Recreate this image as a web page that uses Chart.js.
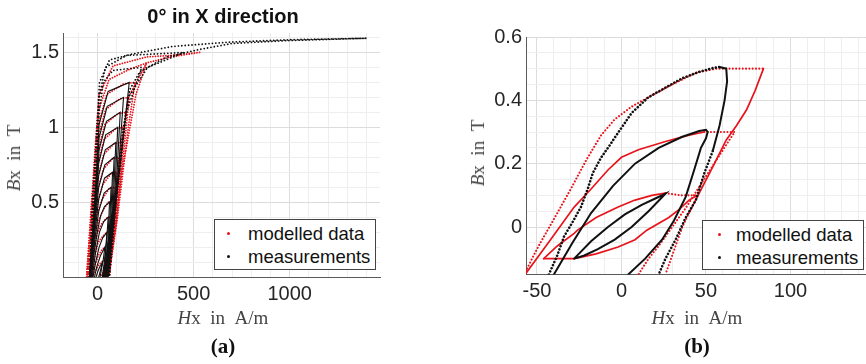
<!DOCTYPE html>
<html>
<head>
<meta charset="utf-8">
<title>B-H loops</title>
<script src="https://cdn.jsdelivr.net/npm/chart.js"></script>
<style>
  html, body { margin: 0; padding: 0; background: #fff; overflow: hidden; }
  #wrap { position: relative; width: 866px; height: 364px; overflow: hidden; }
  canvas { position: absolute; top: 0; }
  .txt { position: absolute; white-space: nowrap; }
  .title { font: bold 20px 'Liberation Sans', Arial, sans-serif; color: #111; text-align: center; }
  .axlab { font: 19px 'Liberation Serif', 'Times New Roman', serif; color: #444; }
  .cap { font: bold 21px 'Liberation Serif', 'Times New Roman', serif; color: #111; text-align: center; }
  .ylab { transform: translate(-50%, -50%) rotate(-90deg); }
  .xlab { transform: translate(-50%, -50%); }
  .legend { position: absolute; background: #fff; border: 1px solid #444; box-sizing: border-box;
            font: 18.5px 'Liberation Sans', Arial, sans-serif; color: #111; }
  .legend .row { position: absolute; left: 0; height: 24px; line-height: 24px; }
  .legend .dot { position: absolute; top: 10px; width: 3px; height: 3px; border-radius: 50%; }
</style>
</head>
<body>
<div id="wrap">
  <canvas id="chartA" width="390" height="364" style="left:0px"></canvas>
  <canvas id="chartB" width="420" height="364" style="left:463px"></canvas>

  <div class="txt title" style="left:123px; top:5px; width:200px;">0° in X direction</div>

  <div class="txt axlab xlab" style="left:223px; top:318px;"><i>H</i>x&ensp;in&ensp;A/m</div>
  <div class="txt axlab ylab" style="left:14px; top:158px;"><i>B</i>x&ensp;in&ensp;T</div>
  <div class="txt cap xlab" style="left:223px; top:346px;">(a)</div>

  <div class="txt axlab xlab" style="left:697px; top:318px;"><i>H</i>x&ensp;in&ensp;A/m</div>
  <div class="txt axlab ylab" style="left:478px; top:153px;"><i>B</i>x&ensp;in&ensp;T</div>
  <div class="txt cap xlab" style="left:697px; top:346px;">(b)</div>

  <div class="legend" style="left:214px; top:219px; width:162px; height:51px;">
    <div class="row" style="top:2px;"><span class="dot" style="left:12px; background:#e8141c;"></span><span style="position:absolute; left:33px;">modelled&nbsp;data</span></div>
    <div class="row" style="top:25px;"><span class="dot" style="left:12px; background:#111;"></span><span style="position:absolute; left:33px;">measurements</span></div>
  </div>
  <div class="legend" style="left:702px; top:220px; width:162px; height:50px;">
    <div class="row" style="top:2px;"><span class="dot" style="left:15px; background:#e8141c;"></span><span style="position:absolute; left:33px;">modelled&nbsp;data</span></div>
    <div class="row" style="top:25px;"><span class="dot" style="left:15px; background:#111;"></span><span style="position:absolute; left:33px;">measurements</span></div>
  </div>
</div>

<script>
// ---- (a) 0 deg in X direction: grid positions and labelled ticks
const xGridA = [-100, 0, 100, 200, 300, 400, 500, 600, 700, 800, 900, 1000, 1100, 1200, 1300, 1400];
const xLabelsA = [0, 500, 1000];
const yGridA = [0.1, 0.2, 0.3, 0.4, 0.5, 0.6, 0.7, 0.8, 0.9, 1, 1.1, 1.2, 1.3, 1.4, 1.5, 1.6];
const yLabelsA = [0.5, 1, 1.5];

// measured loops (a), [H, B] from descending branch over the tip to the ascending branch
const measLoopsA = [
    [[-8, 0], [2, 0.04], [12, 0.07], [26, 0.1], [16, 0.05], [6, 0]],
    [[-16, 0], [-4, 0.07], [14, 0.14], [38, 0.2], [30, 0.12], [20, 0.05], [13, 0]],
    [[-24, 0], [-10, 0.1], [8, 0.2], [26, 0.26], [49, 0.3], [43, 0.2], [34, 0.09], [25, 0]],
    [[-28, 0], [-10, 0.17], [10, 0.3], [32, 0.37], [55, 0.4], [48, 0.26], [38, 0.1], [28, 0]],
    [[-32, 0], [-17, 0.17], [-3, 0.29], [16, 0.41], [36, 0.47], [62, 0.5], [54, 0.24], [42, 0.11], [30, 0]],
    [[-34, 0], [-14, 0.25], [6, 0.44], [34, 0.56], [70, 0.6], [62, 0.32], [48, 0.14], [34, 0]],
    [[-37, 0], [-14, 0.3], [6, 0.52], [36, 0.66], [78, 0.7], [68, 0.38], [52, 0.15], [37, 0]],
    [[-39, 0], [-14, 0.35], [6, 0.6], [38, 0.75], [86, 0.8], [75, 0.44], [56, 0.17], [40, 0]],
    [[-40, 0], [-13, 0.4], [6, 0.68], [40, 0.85], [95, 0.9], [82, 0.5], [60, 0.19], [43, 0]],
    [[-41, 0], [-12, 0.45], [6, 0.76], [42, 0.95], [105, 1.0], [90, 0.56], [64, 0.21], [46, 0]],
    [[-42, 0], [-11, 0.5], [8, 0.85], [46, 1.04], [118, 1.1], [98, 0.62], [68, 0.23], [49, 0]],
    [[-42, 0], [-10, 0.56], [8, 0.93], [50, 1.14], [135, 1.2], [108, 0.7], [72, 0.25], [52, 0]],
    [[-42, 0], [-9, 0.62], [8, 1.02], [55, 1.24], [165, 1.3], [122, 0.8], [76, 0.27], [55, 0]],
    [[-42, 0], [-8, 0.7], [8, 1.1], [30, 1.3], [80, 1.38], [230, 1.4], [150, 1.1], [100, 0.55], [58, 0]],
    [[-42, 0], [-6, 0.8], [8, 1.2], [40, 1.4], [150, 1.48], [450, 1.5], [260, 1.4], [160, 1.2], [110, 0.7], [60, 0]],
    [[-42, 0], [-26, 0.52], [-5, 0.97], [10, 1.3], [62, 1.45], [182, 1.49], [390, 1.54], [700, 1.57], [1000, 1.585],
     [1400, 1.595], [1000, 1.58], [700, 1.56], [531, 1.52], [359, 1.47], [219, 1.37], [167, 1.25], [130, 0.97], [97, 0.52], [62, 0]]
];

// modelled loops (a)
const modelLoopsA = [
    [[-25, 0], [-15, 0.03], [-2, 0.063], [8, 0.085], [26, 0.105], [45, 0.1], [40, 0.085], [28, 0.03], [18, 0]],
    [[-30, 0], [-16, 0.07], [2, 0.14], [24, 0.185], [40, 0.2], [58, 0.2], [50, 0.15], [38, 0.07], [24, 0]],
    [[-36, 0], [-18, 0.12], [0, 0.22], [10, 0.244], [26, 0.27], [49, 0.3], [67, 0.3], [56, 0.21], [44, 0.11], [30, 0]],
    [[-40, 0], [-20, 0.16], [-2, 0.29], [18, 0.35], [44, 0.39], [60, 0.4], [76, 0.4], [66, 0.3], [52, 0.16], [34, 0]],
    [[-43, 0], [-30, 0.12], [-12, 0.29], [6, 0.38], [30, 0.45], [56, 0.5], [84, 0.5], [74, 0.37], [62, 0.275], [46, 0.107], [36, 0]],
    [[-46, 0], [-22, 0.26], [-2, 0.42], [24, 0.52], [60, 0.59], [92, 0.6], [82, 0.46], [66, 0.24], [40, 0]],
    [[-48, 0], [-22, 0.31], [0, 0.5], [28, 0.62], [70, 0.69], [100, 0.7], [90, 0.52], [70, 0.25], [43, 0]],
    [[-50, 0], [-22, 0.36], [0, 0.58], [30, 0.72], [78, 0.79], [110, 0.8], [98, 0.58], [76, 0.27], [46, 0]],
    [[-52, 0], [-22, 0.41], [0, 0.66], [32, 0.82], [86, 0.89], [120, 0.9], [106, 0.64], [80, 0.29], [49, 0]],
    [[-53, 0], [-21, 0.47], [0, 0.75], [34, 0.92], [94, 0.99], [132, 1.0], [116, 0.7], [86, 0.31], [52, 0]],
    [[-54, 0], [-20, 0.53], [2, 0.84], [38, 1.02], [104, 1.09], [146, 1.1], [126, 0.78], [92, 0.33], [54, 0]],
    [[-55, 0], [-19, 0.59], [2, 0.93], [42, 1.12], [116, 1.19], [165, 1.2], [138, 0.86], [96, 0.35], [56, 0]],
    [[-56, 0], [-18, 0.66], [4, 1.02], [48, 1.22], [135, 1.29], [195, 1.3], [160, 1.0], [102, 0.38], [58, 0]],
    [[-57, 0], [-16, 0.74], [6, 1.12], [60, 1.32], [170, 1.39], [255, 1.43], [200, 1.22], [126, 0.7], [60, 0]],
    [[-57, 0], [-14, 0.84], [8, 1.22], [80, 1.41], [255, 1.47], [380, 1.48], [531, 1.5], [380, 1.47], [255, 1.43], [160, 1.2], [116, 0.8], [62, 0]]
];

// ---- (b) zoom on the small loops
const xGridB = [-50, -40, -30, -20, -10, 0, 10, 20, 30, 40, 50, 60, 70, 80, 90, 100, 110, 120, 130, 140, 150];
const xLabelsB = [-50, 0, 50, 100];
const yGridB = [-0.1, -0.05, 0, 0.05, 0.1, 0.15, 0.2, 0.25, 0.3, 0.35, 0.4, 0.45, 0.5, 0.55, 0.6];
const yLabelsB = [0, 0.2, 0.4, 0.6];

// measured branches (b)
const measBranchesB = [
    [[-43, -0.15], [-38, -0.09], [-34, -0.03], [-29, 0.015], [-24, 0.063], [-20, 0.12], [-17, 0.17], [-12, 0.22], [-8, 0.25],
     [-3, 0.29], [6, 0.36], [16, 0.41], [26, 0.44], [36, 0.47], [46, 0.49], [54, 0.502], [58, 0.505]],
    [[58, 0.505], [62, 0.5], [62.5, 0.46], [61, 0.4], [58, 0.32], [54, 0.24]],
    [[54, 0.24], [49, 0.17], [44, 0.085], [38, 0.03], [32, -0.04], [26, -0.1], [22, -0.15]],
    [[-40, -0.15], [-29, -0.05], [-18, 0.044], [-5, 0.13], [8, 0.2], [22, 0.25], [36, 0.285], [46, 0.303], [50, 0.307],
     [51, 0.3], [50, 0.28], [47, 0.25], [43, 0.18], [38, 0.095], [31, 0.02], [24, -0.04], [14, -0.1], [4, -0.15]],
    [[-28, -0.1], [-18, -0.045], [-8, 0.0], [2, 0.04], [12, 0.07], [20, 0.09], [26, 0.105], [16, 0.05], [6, 0.0],
     [-4, -0.04], [-14, -0.07], [-22, -0.09], [-28, -0.1]]
];

// modelled branches (b)
const modelBranchesB = [
    [[-57.5, -0.15], [-52, -0.09], [-48, -0.05], [-38, 0.044], [-30, 0.12], [-21, 0.21], [-16, 0.255], [-12, 0.29], [-4, 0.34],
     [6, 0.38], [16, 0.41], [30, 0.45], [44, 0.487], [56, 0.5], [70, 0.5], [84, 0.5]],
    [[84, 0.5], [79, 0.43], [74, 0.37], [68, 0.32], [62, 0.275], [54, 0.19], [46, 0.107], [40, 0.045]],
    [[40, 0.045], [36, 0.0], [32, -0.06], [26, -0.15]],
    [[-57, -0.15], [-55, -0.135], [-42, -0.04], [-28, 0.063], [-18, 0.12], [-8, 0.18], [0, 0.22], [10, 0.244], [26, 0.27],
     [40, 0.29], [49, 0.3]],
    [[49, 0.3], [58, 0.3], [67, 0.3], [62, 0.26], [56, 0.21], [50, 0.16], [44, 0.11], [38, 0.06], [30, 0.0], [22, -0.06],
     [16, -0.1], [10, -0.15]],
    [[-46, -0.1], [-38, -0.06], [-28, -0.02], [-26, -0.01], [-15, 0.03], [-2, 0.063], [8, 0.085], [18, 0.1], [26, 0.107]],
    [[26, 0.107], [35, 0.1], [45, 0.1]],
    [[45, 0.1], [40, 0.085], [34, 0.055], [28, 0.03], [15, -0.01], [8, -0.04], [-2, -0.063], [-15, -0.085], [-28, -0.1], [-46, -0.1]]
];

const RED = '#e8141c';
const BLACK = '#111111';

Chart.defaults.font.family = "'Liberation Sans', Arial, sans-serif";
Chart.defaults.color = '#262626';

function toPts(loop) {
    return loop.map(p => ({ x: p[0], y: p[1] }));
}

// dotted lines: near-zero dashes with round caps give one dot per period
function lineSet(loop, color, width, gap, order) {
    return {
        data: toPts(loop),
        showLine: true,
        borderColor: color,
        borderWidth: width,
        borderDash: gap ? [0.01, gap] : [],
        borderCapStyle: 'round',
        pointRadius: 0,
        tension: 0,
        order: order
    };
}

// scale with explicit grid positions, only some of them labelled
function gridScale(min, max, grid, labels, axis, size) {
    return {
        type: 'linear',
        min: min,
        max: max,
        afterBuildTicks: s => { s.ticks = grid.map(v => ({ value: v })); },
        afterFit: s => { if (axis === 'x') { s.height = size; } else { s.width = size; } },
        ticks: {
            autoSkip: false,
            maxRotation: 0,
            padding: axis === 'x' ? 5 : 4,
            font: { size: 20 },
            color: '#262626',
            callback: v => labels.includes(v) ? String(v) : ''
        },
        grid: {
            drawTicks: false,
            color: c => labels.includes(c.tick.value) ? '#dcdcdc' : '#eeeeee',
            lineWidth: 1
        },
        border: { color: '#5a5a5a', width: 1 }
    };
}

function baseOptions(padding, xScale, yScale) {
    return {
        responsive: false,
        animation: false,
        layout: { padding: padding },
        plugins: { legend: { display: false }, tooltip: { enabled: false }, title: { display: false } },
        scales: { x: xScale, y: yScale }
    };
}

// ---- chart (a)
const setsA = [];
modelLoopsA.forEach(loop => setsA.push(lineSet(loop, RED, 1.8, 2.6, 2)));
measLoopsA.forEach((loop, i) => setsA.push(lineSet(loop, BLACK, i < 13 ? 1.1 : 1.8, i < 13 ? 0 : 3.4, 1)));

new Chart(document.getElementById('chartA').getContext('2d'), {
    type: 'scatter',
    data: { datasets: setsA },
    options: baseOptions({ left: 0, right: 10, top: 33, bottom: 0 },
        gridScale(-180, 1470, xGridA, xLabelsA, 'x', 87),
        gridScale(0, 1.63, yGridA, yLabelsA, 'y', 63))
});

// ---- chart (b)
const measDottedB = [true, false, true, false, false];
const modelDottedB = [true, false, true, false, true, false, true, false];
const setsB = [];
modelBranchesB.forEach((br, i) => setsB.push(lineSet(br, RED, modelDottedB[i] ? 2.1 : 1.7, modelDottedB[i] ? 3.3 : 0, 2)));
measBranchesB.forEach((br, i) => setsB.push(lineSet(br, BLACK, measDottedB[i] ? 2.6 : 2, measDottedB[i] ? 3.4 : 0, 1)));

new Chart(document.getElementById('chartB').getContext('2d'), {
    type: 'scatter',
    data: { datasets: setsB },
    options: baseOptions({ left: 0, right: 8, top: 37, bottom: 0 },
        gridScale(-56.5, 150, xGridB, xLabelsB, 'x', 89.5),
        gridScale(-0.15, 0.6, yGridB, yLabelsB, 'y', 63))
});
</script>
</body>
</html>
